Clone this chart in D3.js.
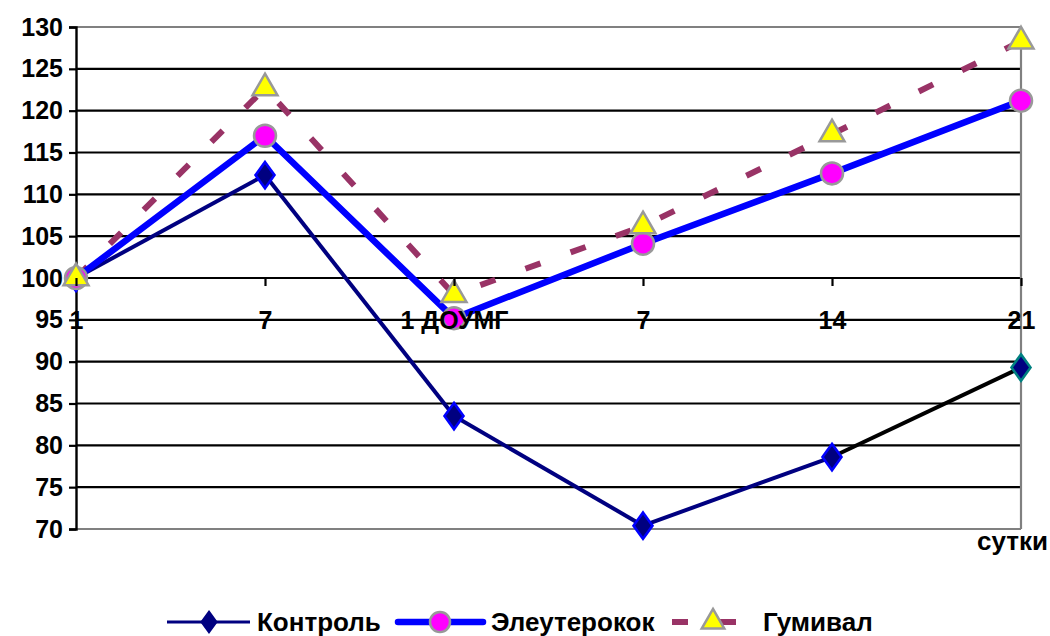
<!DOCTYPE html>
<html><head><meta charset="utf-8">
<script src="https://cdn.jsdelivr.net/npm/d3@7"></script>
<style>body{margin:0;background:#fff}svg{display:block}text{font-family:"Liberation Sans",Arial,sans-serif;font-weight:bold}</style>
</head><body><svg width="1050" height="636"></svg>
<script>
const categories = ["1", "7", "1 ДОУМГ", "7", "14", "21"];
const control = [100, 112.3, 83.5, 70.4, 78.6, 89.3];
const eleuterococcus = [100, 117, 95.2, 104.1, 112.5, 121.2];
const gumival = [100, 122.7, 98, 106.2, 117.2, 128.3];
const yTicks = [70, 75, 80, 85, 90, 95, 100, 105, 110, 115, 120, 125, 130];
const seriesNames = ["Контроль", "Элеутерокок", "Гумивал"];

const FONT = '"Liberation Sans",Arial,sans-serif';
const svg = d3.select("svg");
const L = 76, R = 1021, T = 27, B = 529;
const x = d3.scalePoint().domain(d3.range(categories.length)).range([L, R]).padding(0);
const y = d3.scaleLinear().domain([70, 130]).range([B, T]);

// gridlines
svg.append("g").selectAll("line").data(yTicks).join("line")
  .attr("x1", L).attr("x2", R).attr("y1", d => y(d)).attr("y2", d => y(d))
  .attr("stroke", d => (d === 70 || d === 130) ? "#808080" : "#000").attr("stroke-width", 2.2);
// right border
svg.append("line").attr("x1", R).attr("x2", R).attr("y1", T).attr("y2", B).attr("stroke", "#808080").attr("stroke-width", 2.2);

// y axis
const yAxis = svg.append("g").attr("transform", `translate(${L},0)`)
  .call(d3.axisLeft(y).tickValues(yTicks).tickSize(7).tickPadding(6));
yAxis.select(".domain").attr("stroke", "#000").attr("stroke-width", 2.4);
yAxis.selectAll(".tick line").attr("stroke", "#000").attr("stroke-width", 2.2);
yAxis.selectAll("text").attr("font-size", 25).attr("fill", "#000").attr("font-weight", "bold")
  .style("font-family", FONT);

svg.append("text").attr("x", 1048).attr("y", 550).attr("text-anchor", "end")
  .attr("font-size", 26).text("сутки");

const line = d3.line().x((d, i) => x(i)).y(d => y(d));

// Гумивал
svg.append("path").datum(gumival).attr("d", line).attr("fill", "none")
  .attr("stroke", "#993366").attr("stroke-width", 6).attr("stroke-dasharray", "16,32");

// Контроль
const cPts = control.map((v, i) => [x(i), y(v)]);
for (let i = 0; i < cPts.length - 1; i++) {
  svg.append("line").attr("x1", cPts[i][0]).attr("y1", cPts[i][1]).attr("x2", cPts[i+1][0]).attr("y2", cPts[i+1][1])
    .attr("stroke", i === cPts.length - 2 ? "#000" : "#000080").attr("stroke-width", 4);
}

// Элеутерококк
svg.append("path").datum(eleuterococcus).attr("d", line).attr("fill", "none")
  .attr("stroke", "#0000ff").attr("stroke-width", 6.5).attr("stroke-linejoin", "miter");

const diamond = d3.symbol().type(d3.symbolDiamond).size(200);
const tri = d3.symbol().type(d3.symbolTriangle).size(270);

svg.append("g").selectAll("path").data(control).join("path")
  .attr("d", diamond).attr("transform", (d, i) => `translate(${x(i)},${y(d)}) scale(1.25,1)`)
  .attr("fill", "#000080").attr("stroke", (d, i) => i === control.length - 1 ? "#008080" : "#0000ff").attr("stroke-width", 2.2);

svg.append("g").selectAll("circle").data(eleuterococcus).join("circle")
  .attr("cx", (d, i) => x(i)).attr("cy", d => y(d)).attr("r", 11)
  .attr("fill", "#ff00ff").attr("stroke", "#999").attr("stroke-width", 2.5);

svg.append("g").selectAll("path").data(gumival).join("path")
  .attr("d", tri).attr("transform", (d, i) => `translate(${x(i)},${y(d)})`)
  .attr("fill", "#ffff00").attr("stroke", "#999").attr("stroke-width", 2.5);

// x axis at 100 (labels drawn over markers)
const xAxis = svg.append("g").attr("transform", `translate(0,${y(100)})`)
  .call(d3.axisBottom(x).tickSize(8).tickFormat(i => categories[i]).tickSizeOuter(0));
xAxis.select(".domain").remove();
xAxis.selectAll(".tick line").attr("stroke", "#000").attr("stroke-width", 2.2);
xAxis.selectAll("text").attr("font-size", 25).attr("fill", "#000").attr("font-weight", "bold")
  .attr("y", y(95) - y(100) + 9).attr("dy", 0)
  .style("font-family", FONT);

// legend
const ly = 622;
const lg = svg.append("g");
lg.append("line").attr("x1", 167).attr("x2", 250).attr("y1", ly).attr("y2", ly).attr("stroke", "#000080").attr("stroke-width", 3);
lg.append("path").attr("d", d3.symbol().type(d3.symbolDiamond).size(130)).attr("transform", `translate(209,${ly}) scale(1.25,1)`).attr("fill", "#000080").attr("stroke", "#000080").attr("stroke-width", 1.5);
lg.append("text").attr("x", 257).attr("y", ly + 9).attr("font-size", 26).text(seriesNames[0]);
lg.append("line").attr("x1", 398).attr("x2", 483).attr("y1", ly).attr("y2", ly).attr("stroke", "#0000ff").attr("stroke-width", 6.5).attr("stroke-linecap", "round");
lg.append("circle").attr("cx", 440).attr("cy", ly).attr("r", 10).attr("fill", "#ff00ff").attr("stroke", "#999").attr("stroke-width", 2.5);
lg.append("text").attr("x", 491).attr("y", ly + 9).attr("font-size", 26).text(seriesNames[1]);
lg.append("line").attr("x1", 672).attr("x2", 688).attr("y1", ly).attr("y2", ly).attr("stroke", "#993366").attr("stroke-width", 6);
lg.append("line").attr("x1", 713).attr("x2", 736).attr("y1", ly).attr("y2", ly).attr("stroke", "#993366").attr("stroke-width", 6);
lg.append("path").attr("d", d3.symbol().type(d3.symbolTriangle).size(220)).attr("transform", `translate(713,${ly})`).attr("fill", "#ffff00").attr("stroke", "#999").attr("stroke-width", 2.5);
lg.append("text").attr("x", 763).attr("y", ly + 9).attr("font-size", 26).text(seriesNames[2]);
</script></body></html>
